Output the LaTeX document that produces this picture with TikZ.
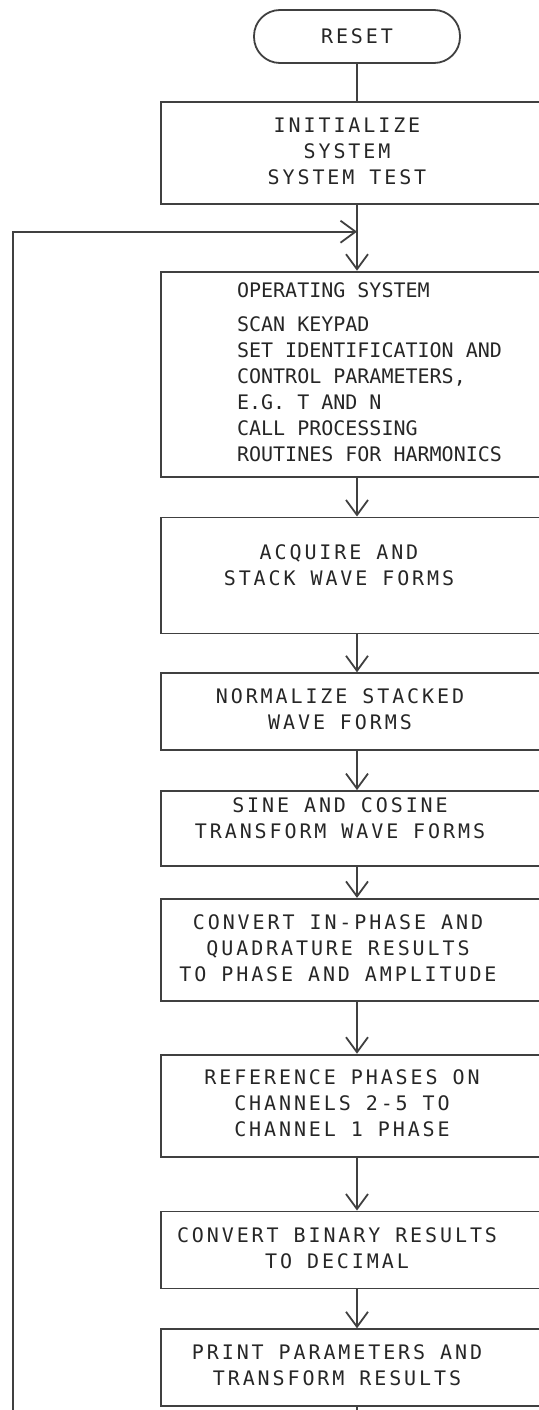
\documentclass[tikz,border=0pt]{standalone}
\usepackage{fontspec}
\setmainfont{DejaVu Sans Mono}
\newfontfamily\flowfont{DejaVu Sans Mono}[LetterSpace=14.5]
\usetikzlibrary{arrows.meta,positioning}
% lines of a box, moved left by half of #1
\newcommand{\boxlines}[3][c]{\begin{tabular}{@{}#1@{}}#3\end{tabular}\hspace*{#2}}

\begin{document}
\begin{tikzpicture}[
  x=1pt, y=-1pt,
  font=\flowfont\fontsize{20}{26}\selectfont,
  line width=1.8pt,
  stepbox/.style={draw=black!75, text=black!85, minimum width=392pt,
                  inner sep=0pt},
  endbox/.style={draw=black!75, text=black!85, rounded corners=26pt,
                 minimum width=206pt, minimum height=53pt, inner sep=0pt},
  flow/.style={draw=black!75},
  >={Straight Barb[length=15pt,width=22pt]}]
\useasboundingbox (0,0) rectangle (538,1410);
\node[endbox] (reset) at (357,36.5) {RESET};
\node[stepbox, below=37pt of reset, minimum height=102pt] (init)
      {\boxlines{20pt}{INITIALIZE\\SYSTEM\\SYSTEM TEST}};
\coordinate[below=27pt of init] (merge);
\node[stepbox, below=66pt of init, minimum height=205pt,
      font=\normalfont\fontsize{20}{26}\selectfont] (os)
      {\boxlines[l]{-25pt}{OPERATING SYSTEM\\[8pt]
       SCAN KEYPAD\\
       SET IDENTIFICATION AND\\
       CONTROL PARAMETERS,\\
       E.G. T AND N\\
       CALL PROCESSING\\
       ROUTINES FOR HARMONICS}};
\node[stepbox, below=39pt of os, minimum height=116pt] (acq)
      {\boxlines{36pt}{ACQUIRE AND\\STACK WAVE FORMS\\[16pt]}};
\node[stepbox, below=38pt of acq, minimum height=77pt] (norm)
      {\boxlines{34pt}{NORMALIZE STACKED\\WAVE FORMS}};
\node[stepbox, below=39pt of norm, minimum height=75pt] (sine)
      {\boxlines{34pt}{SINE AND COSINE\\TRANSFORM WAVE FORMS\\[16pt]}};
\node[stepbox, below=31pt of sine, minimum height=102pt] (conv)
      {\boxlines{38pt}{CONVERT IN-PHASE AND\\QUADRATURE RESULTS\\
       TO PHASE AND AMPLITUDE}};
\node[stepbox, below=52pt of conv, minimum height=102pt] (refph)
      {\boxlines{30pt}{REFERENCE PHASES ON\\CHANNELS 2-5 TO\\
       CHANNEL 1 PHASE}};
\node[stepbox, below=53pt of refph, minimum height=77pt] (bin)
      {\boxlines{40pt}{CONVERT BINARY RESULTS\\TO DECIMAL}};
\node[stepbox, below=39pt of bin, minimum height=77pt] (print)
      {\boxlines{40pt}{PRINT PARAMETERS AND\\TRANSFORM RESULTS}};
\coordinate (back) at (13,1450);

\draw[flow] (reset) -- (init);
\draw[flow] (init) -- (merge);
\draw[flow, ->] (merge) -- (os);
\draw[flow, ->] (os) -- (acq);
\draw[flow, ->] (acq) -- (norm);
\draw[flow, ->] (norm) -- (sine);
\draw[flow, ->] (sine) -- (conv);
\draw[flow, ->] (conv) -- (refph);
\draw[flow, ->] (refph) -- (bin);
\draw[flow, ->] (bin) -- (print);
% back to the operating system
\draw[flow, ->] (print) |- (back) |- (merge);
\end{tikzpicture}
\end{document}
